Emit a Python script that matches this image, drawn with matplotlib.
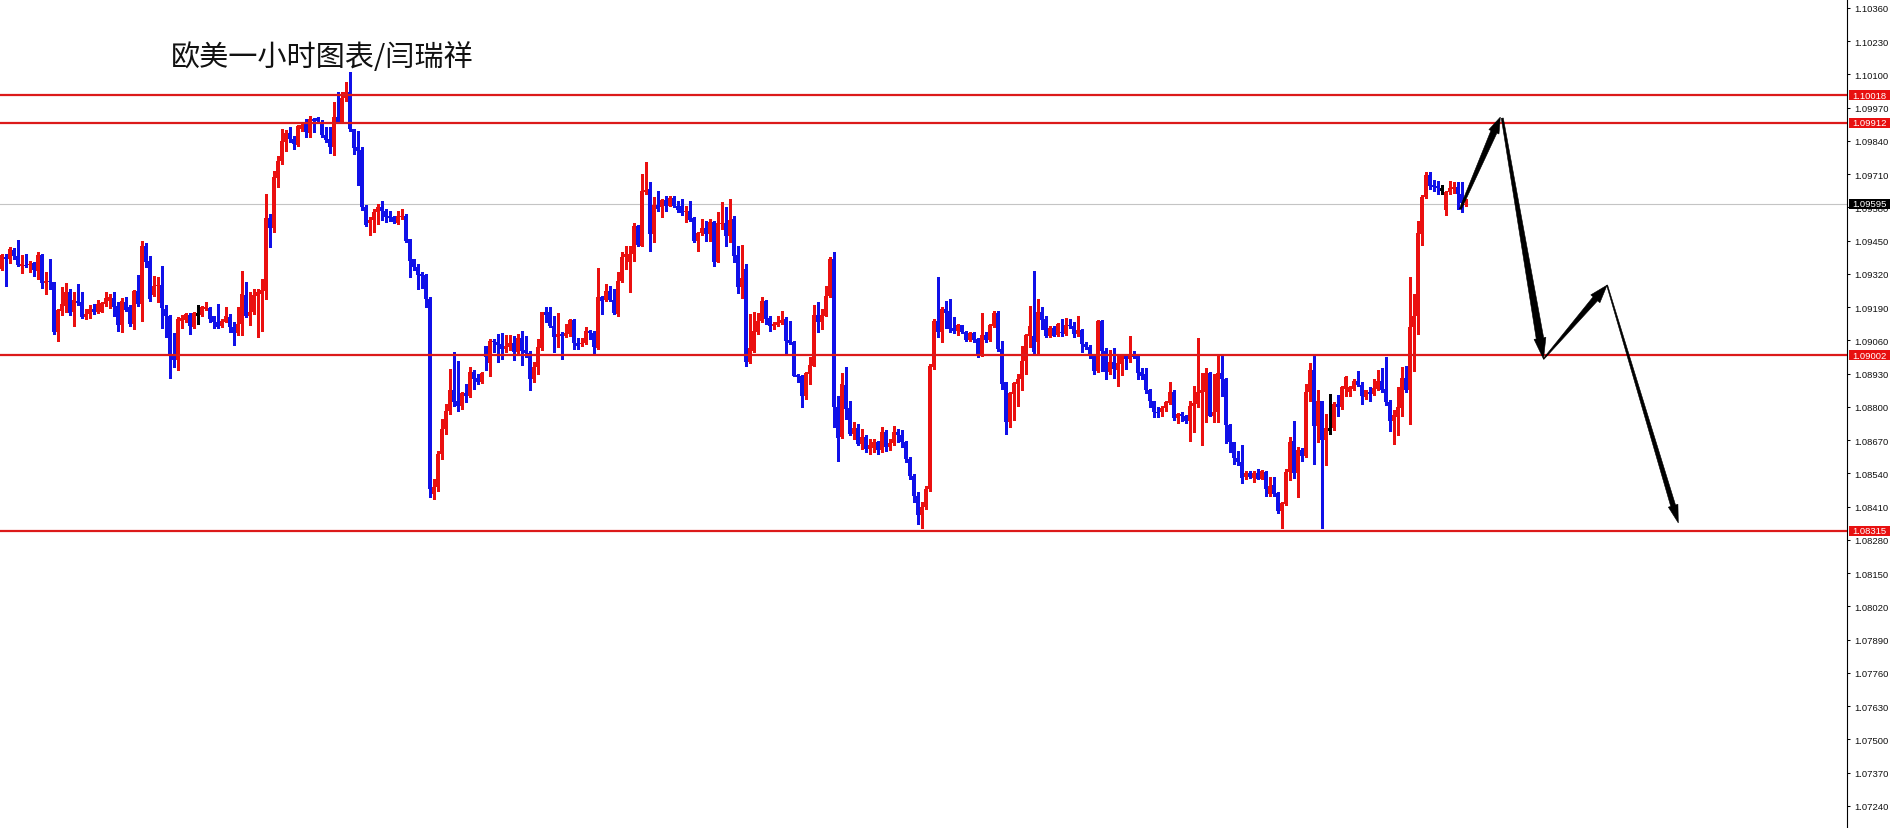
import numpy as np
import matplotlib
matplotlib.use("Agg")
import matplotlib.pyplot as plt
from matplotlib.patches import Polygon, Rectangle
from matplotlib.transforms import IdentityTransform

# ---------------- data (EURUSD, 1 hour) ----------------
opens = [
    1.09339, 1.09385, 1.09378, 1.09415, 1.09389, 1.09352, 1.09356, 1.09355, 1.09363, 1.09333,
    1.09394, 1.09283, 1.09293, 1.09287, 1.09094, 1.09176, 1.09196, 1.09250, 1.09172, 1.09215,
    1.09209, 1.09150, 1.09163, 1.09183, 1.09172, 1.09172, 1.09202, 1.09215, 1.09224, 1.09196,
    1.09120, 1.09211, 1.09189, 1.09124, 1.09254, 1.09202, 1.09428, 1.09372, 1.09237, 1.09271,
    1.09277, 1.09183, 1.09154, 1.09003, 1.08985, 1.09137, 1.09141, 1.09159, 1.09111, 1.09162,
    1.09159, 1.09183, 1.09185, 1.09154, 1.09131, 1.09115, 1.09133, 1.09150, 1.09111, 1.09089,
    1.09124, 1.09237, 1.09154, 1.09170, 1.09232, 1.09241, 1.09254, 1.09537, 1.09498, 1.09694,
    1.09763, 1.09834, 1.09871, 1.09847, 1.09824, 1.09886, 1.09906, 1.09871, 1.09925, 1.09928,
    1.09912, 1.09863, 1.09847, 1.09815, 1.09932, 1.09912, 1.10006, 1.10032, 1.09886, 1.09815,
    1.09806, 1.09580, 1.09519, 1.09532, 1.09561, 1.09580, 1.09567, 1.09545, 1.09541, 1.09519,
    1.09544, 1.09545, 1.09456, 1.09378, 1.09346, 1.09320, 1.09316, 1.09222, 1.08460, 1.08487,
    1.08616, 1.08714, 1.08784, 1.08864, 1.08824, 1.08805, 1.08854, 1.08844, 1.08938, 1.08912,
    1.08899, 1.09037, 1.08972, 1.09059, 1.09055, 1.09046, 1.09026, 1.09033, 1.09050, 1.09013,
    1.09068, 1.09024, 1.09011, 1.08909, 1.08955, 1.09029, 1.09170, 1.09170, 1.09115, 1.09072,
    1.09085, 1.09076, 1.09085, 1.09141, 1.09050, 1.09046, 1.09050, 1.09098, 1.09089, 1.09029,
    1.09228, 1.09219, 1.09254, 1.09219, 1.09163, 1.09293, 1.09385, 1.09365, 1.09398, 1.09506,
    1.09430, 1.09639, 1.09652, 1.09476, 1.09589, 1.09580, 1.09610, 1.09587, 1.09615, 1.09587,
    1.09584, 1.09561, 1.09567, 1.09537, 1.09450, 1.09480, 1.09498, 1.09476, 1.09522, 1.09368,
    1.09515, 1.09519, 1.09467, 1.09535, 1.09394, 1.09267, 1.09339, 1.08974, 1.09020, 1.09094,
    1.09137, 1.09215, 1.09146, 1.09118, 1.09120, 1.09128, 1.09144, 1.09063, 1.09055, 1.08925,
    1.08922, 1.08844, 1.08929, 1.08961, 1.09159, 1.09133, 1.09157, 1.09232, 1.09378, 1.08798,
    1.08681, 1.08886, 1.08795, 1.08694, 1.08716, 1.08655, 1.08681, 1.08636, 1.08638, 1.08662,
    1.08633, 1.08703, 1.08642, 1.08659, 1.08703, 1.08690, 1.08662, 1.08596, 1.08531, 1.08453,
    1.08378, 1.08408, 1.08479, 1.08955, 1.09137, 1.09091, 1.09183, 1.09176, 1.09107, 1.09098,
    1.09120, 1.09094, 1.09063, 1.09089, 1.09065, 1.09003, 1.09081, 1.09063, 1.09118, 1.09167,
    1.09026, 1.08896, 1.08742, 1.08850, 1.08890, 1.08909, 1.08981, 1.09078, 1.09076, 1.09055,
    1.09172, 1.09144, 1.09076, 1.09107, 1.09081, 1.09094, 1.09085, 1.09120, 1.09118, 1.09085,
    1.09102, 1.09046, 1.09033, 1.09000, 1.08942, 1.09137, 1.09020, 1.08935, 1.08974, 1.08946,
    1.08968, 1.09000, 1.08987, 1.09007, 1.08998, 1.08935, 1.08929, 1.08867, 1.08821, 1.08781,
    1.08781, 1.08795, 1.08815, 1.08860, 1.08755, 1.08772, 1.08766, 1.08746, 1.08802, 1.08811,
    1.08854, 1.08860, 1.08933, 1.08766, 1.08781, 1.08933, 1.08909, 1.08729, 1.08662, 1.08599,
    1.08586, 1.08525, 1.08542, 1.08521, 1.08542, 1.08518, 1.08544, 1.08460, 1.08495, 1.08464,
    1.08391, 1.08421, 1.08544, 1.08668, 1.08542, 1.08633, 1.08607, 1.08857, 1.08946, 1.08727,
    1.08821, 1.08672, 1.08714, 1.08716, 1.08811, 1.08798, 1.08870, 1.08860, 1.08870, 1.08903,
    1.08886, 1.08837, 1.08860, 1.08850, 1.08870, 1.08903, 1.08870, 1.08818, 1.08746, 1.08759,
    1.08795, 1.08912, 1.08864, 1.09111, 1.09154, 1.09476, 1.09619, 1.09707, 1.09667, 1.09662,
    1.09653, 1.09571, 1.09639, 1.09652, 1.09658, 1.09632, 1.09589,
]
highs = [
    1.09398, 1.09398, 1.09424, 1.09420, 1.09452, 1.09394, 1.09398, 1.09372, 1.09368, 1.09407,
    1.09396, 1.09326, 1.09378, 1.09290, 1.09183, 1.09267, 1.09284, 1.09261, 1.09250, 1.09280,
    1.09248, 1.09183, 1.09198, 1.09202, 1.09219, 1.09211, 1.09250, 1.09241, 1.09248, 1.09211,
    1.09224, 1.09228, 1.09198, 1.09256, 1.09316, 1.09450, 1.09441, 1.09389, 1.09313, 1.09306,
    1.09349, 1.09198, 1.09159, 1.09089, 1.09150, 1.09159, 1.09167, 1.09167, 1.09172, 1.09198,
    1.09193, 1.09211, 1.09189, 1.09157, 1.09202, 1.09144, 1.09189, 1.09163, 1.09131, 1.09189,
    1.09333, 1.09290, 1.09248, 1.09261, 1.09261, 1.09300, 1.09632, 1.09554, 1.09724, 1.09782,
    1.09886, 1.09884, 1.09893, 1.09858, 1.09902, 1.09906, 1.09925, 1.09938, 1.09928, 1.09932,
    1.09923, 1.09893, 1.09893, 1.09993, 1.10030, 1.10030, 1.10069, 1.10110, 1.09888, 1.09880,
    1.09815, 1.09589, 1.09541, 1.09574, 1.09593, 1.09606, 1.09574, 1.09567, 1.09548, 1.09567,
    1.09574, 1.09554, 1.09458, 1.09380, 1.09359, 1.09326, 1.09320, 1.09228, 1.08518, 1.08628,
    1.08753, 1.08811, 1.08948, 1.09013, 1.08981, 1.08857, 1.08890, 1.08955, 1.08946, 1.08929,
    1.08938, 1.09039, 1.09065, 1.09065, 1.09085, 1.09089, 1.09081, 1.09081, 1.09078, 1.09085,
    1.09098, 1.09076, 1.09020, 1.08974, 1.09065, 1.09172, 1.09189, 1.09189, 1.09154, 1.09167,
    1.09091, 1.09124, 1.09144, 1.09144, 1.09068, 1.09068, 1.09111, 1.09102, 1.09098, 1.09342,
    1.09232, 1.09280, 1.09274, 1.09261, 1.09326, 1.09404, 1.09430, 1.09428, 1.09519, 1.09511,
    1.09710, 1.09756, 1.09678, 1.09619, 1.09645, 1.09613, 1.09626, 1.09626, 1.09626, 1.09606,
    1.09613, 1.09587, 1.09606, 1.09541, 1.09482, 1.09535, 1.09528, 1.09535, 1.09528, 1.09561,
    1.09600, 1.09580, 1.09613, 1.09548, 1.09430, 1.09433, 1.09359, 1.09163, 1.09172, 1.09167,
    1.09228, 1.09219, 1.09154, 1.09131, 1.09157, 1.09176, 1.09150, 1.09137, 1.09057, 1.08929,
    1.08925, 1.08938, 1.08994, 1.09198, 1.09209, 1.09183, 1.09274, 1.09385, 1.09404, 1.08844,
    1.08933, 1.08955, 1.08824, 1.08740, 1.08733, 1.08714, 1.08688, 1.08675, 1.08675, 1.08668,
    1.08720, 1.08711, 1.08675, 1.08727, 1.08714, 1.08711, 1.08668, 1.08603, 1.08538, 1.08466,
    1.08427, 1.08492, 1.08968, 1.09144, 1.09306, 1.09189, 1.09215, 1.09222, 1.09150, 1.09124,
    1.09122, 1.09098, 1.09091, 1.09091, 1.09068, 1.09167, 1.09091, 1.09124, 1.09176, 1.09176,
    1.09059, 1.08899, 1.08860, 1.08899, 1.08929, 1.09037, 1.09085, 1.09193, 1.09333, 1.09222,
    1.09189, 1.09157, 1.09115, 1.09118, 1.09128, 1.09144, 1.09146, 1.09144, 1.09133, 1.09157,
    1.09105, 1.09052, 1.09042, 1.09007, 1.09139, 1.09141, 1.09029, 1.09024, 1.09029, 1.09007,
    1.09007, 1.09003, 1.09076, 1.09020, 1.09003, 1.08951, 1.08951, 1.08870, 1.08824, 1.08798,
    1.08805, 1.08824, 1.08899, 1.08864, 1.08776, 1.08781, 1.08768, 1.08824, 1.08881, 1.09068,
    1.08933, 1.08951, 1.08935, 1.08929, 1.09007, 1.09003, 1.08912, 1.08733, 1.08664, 1.08629,
    1.08649, 1.08551, 1.08551, 1.08551, 1.08557, 1.08553, 1.08551, 1.08525, 1.08525, 1.08466,
    1.08427, 1.08557, 1.08681, 1.08746, 1.08642, 1.08638, 1.08890, 1.08972, 1.09000, 1.08867,
    1.08824, 1.08772, 1.08850, 1.08818, 1.08847, 1.08883, 1.08920, 1.08883, 1.08907, 1.08942,
    1.08899, 1.08867, 1.08877, 1.08907, 1.08946, 1.08951, 1.08994, 1.08828, 1.08789, 1.08877,
    1.08955, 1.08961, 1.09306, 1.09241, 1.09528, 1.09628, 1.09717, 1.09720, 1.09688, 1.09684,
    1.09667, 1.09645, 1.09684, 1.09680, 1.09680, 1.09678, 1.09613,
]
lows = [
    1.09336, 1.09271, 1.09363, 1.09378, 1.09352, 1.09322, 1.09346, 1.09326, 1.09310, 1.09300,
    1.09264, 1.09240, 1.09261, 1.09084, 1.09059, 1.09159, 1.09170, 1.09159, 1.09115, 1.09198,
    1.09146, 1.09144, 1.09146, 1.09163, 1.09167, 1.09170, 1.09196, 1.09185, 1.09157, 1.09098,
    1.09094, 1.09174, 1.09118, 1.09105, 1.09193, 1.09137, 1.09346, 1.09215, 1.09232, 1.09209,
    1.09107, 1.09072, 1.08912, 1.08955, 1.08946, 1.09107, 1.09131, 1.09085, 1.09107, 1.09124,
    1.09157, 1.09180, 1.09133, 1.09107, 1.09107, 1.09111, 1.09131, 1.09091, 1.09042, 1.09081,
    1.09081, 1.09150, 1.09120, 1.09163, 1.09072, 1.09098, 1.09222, 1.09424, 1.09485, 1.09658,
    1.09750, 1.09802, 1.09834, 1.09808, 1.09819, 1.09880, 1.09854, 1.09854, 1.09873, 1.09912,
    1.09854, 1.09837, 1.09793, 1.09785, 1.09910, 1.09910, 1.09997, 1.09880, 1.09789, 1.09667,
    1.09571, 1.09508, 1.09472, 1.09485, 1.09515, 1.09532, 1.09522, 1.09528, 1.09519, 1.09515,
    1.09535, 1.09443, 1.09306, 1.09336, 1.09261, 1.09264, 1.09189, 1.08448, 1.08440, 1.08471,
    1.08596, 1.08694, 1.08772, 1.08805, 1.08785, 1.08792, 1.08818, 1.08837, 1.08870, 1.08890,
    1.08893, 1.08946, 1.08922, 1.09013, 1.08977, 1.08987, 1.09013, 1.09024, 1.08985, 1.09003,
    1.08964, 1.08994, 1.08864, 1.08896, 1.08929, 1.09024, 1.09131, 1.09111, 1.09013, 1.09033,
    1.08987, 1.09072, 1.09078, 1.09026, 1.09026, 1.09037, 1.09046, 1.09065, 1.09003, 1.09026,
    1.09163, 1.09215, 1.09215, 1.09163, 1.09154, 1.09290, 1.09339, 1.09248, 1.09372, 1.09430,
    1.09428, 1.09632, 1.09411, 1.09446, 1.09567, 1.09541, 1.09567, 1.09584, 1.09580, 1.09561,
    1.09550, 1.09524, 1.09528, 1.09446, 1.09411, 1.09472, 1.09450, 1.09450, 1.09349, 1.09365,
    1.09495, 1.09430, 1.09443, 1.09365, 1.09245, 1.09224, 1.08959, 1.08972, 1.09016, 1.09085,
    1.09133, 1.09124, 1.09098, 1.09105, 1.09118, 1.09124, 1.09007, 1.09046, 1.08920, 1.08896,
    1.08798, 1.08831, 1.08890, 1.08959, 1.09094, 1.09105, 1.09154, 1.09228, 1.08720, 1.08590,
    1.08677, 1.08753, 1.08688, 1.08675, 1.08649, 1.08636, 1.08623, 1.08616, 1.08623, 1.08616,
    1.08625, 1.08629, 1.08633, 1.08649, 1.08662, 1.08642, 1.08583, 1.08516, 1.08427, 1.08342,
    1.08325, 1.08401, 1.08469, 1.08948, 1.09072, 1.09055, 1.09107, 1.09094, 1.09089, 1.09081,
    1.09089, 1.09059, 1.09059, 1.09055, 1.08994, 1.09000, 1.09055, 1.09059, 1.09111, 1.09020,
    1.08870, 1.08694, 1.08720, 1.08750, 1.08805, 1.08864, 1.08929, 1.09033, 1.09011, 1.09007,
    1.09105, 1.09072, 1.09072, 1.09076, 1.09078, 1.09078, 1.09081, 1.09107, 1.09072, 1.09078,
    1.09013, 1.09026, 1.08990, 1.08929, 1.08938, 1.08942, 1.08909, 1.08929, 1.08912, 1.08883,
    1.08925, 1.08948, 1.08974, 1.08990, 1.08909, 1.08909, 1.08854, 1.08798, 1.08759, 1.08759,
    1.08763, 1.08785, 1.08811, 1.08750, 1.08737, 1.08746, 1.08737, 1.08668, 1.08701, 1.08798,
    1.08651, 1.08742, 1.08763, 1.08742, 1.08742, 1.08844, 1.08659, 1.08625, 1.08577, 1.08573,
    1.08503, 1.08516, 1.08521, 1.08508, 1.08516, 1.08516, 1.08453, 1.08453, 1.08453, 1.08385,
    1.08325, 1.08417, 1.08512, 1.08521, 1.08447, 1.08590, 1.08603, 1.08821, 1.08577, 1.08662,
    1.08325, 1.08573, 1.08694, 1.08711, 1.08763, 1.08792, 1.08841, 1.08841, 1.08864, 1.08881,
    1.08811, 1.08831, 1.08821, 1.08847, 1.08864, 1.08860, 1.08808, 1.08707, 1.08655, 1.08688,
    1.08766, 1.08857, 1.08733, 1.08942, 1.09085, 1.09433, 1.09615, 1.09652, 1.09645, 1.09632,
    1.09632, 1.09550, 1.09632, 1.09636, 1.09574, 1.09561, 1.09584,
]
closes = [
    1.09394, 1.09378, 1.09417, 1.09391, 1.09355, 1.09359, 1.09352, 1.09359, 1.09336, 1.09394,
    1.09284, 1.09291, 1.09287, 1.09091, 1.09180, 1.09202, 1.09248, 1.09167, 1.09219, 1.09206,
    1.09150, 1.09163, 1.09183, 1.09172, 1.09202, 1.09206, 1.09224, 1.09228, 1.09189, 1.09120,
    1.09215, 1.09180, 1.09124, 1.09254, 1.09202, 1.09428, 1.09368, 1.09222, 1.09271, 1.09277,
    1.09185, 1.09154, 1.09003, 1.08985, 1.09144, 1.09146, 1.09163, 1.09115, 1.09167, 1.09162,
    1.09189, 1.09189, 1.09144, 1.09131, 1.09111, 1.09137, 1.09157, 1.09111, 1.09089, 1.09124,
    1.09241, 1.09154, 1.09172, 1.09237, 1.09248, 1.09258, 1.09537, 1.09498, 1.09697, 1.09763,
    1.09841, 1.09871, 1.09847, 1.09828, 1.09897, 1.09902, 1.09873, 1.09925, 1.09919, 1.09919,
    1.09863, 1.09845, 1.09815, 1.09932, 1.09915, 1.10006, 1.10030, 1.09886, 1.09811, 1.09802,
    1.09580, 1.09511, 1.09532, 1.09563, 1.09580, 1.09567, 1.09541, 1.09540, 1.09524, 1.09545,
    1.09548, 1.09450, 1.09372, 1.09346, 1.09316, 1.09313, 1.09222, 1.08479, 1.08487, 1.08616,
    1.08714, 1.08784, 1.08864, 1.08818, 1.08805, 1.08854, 1.08844, 1.08938, 1.08909, 1.08899,
    1.08933, 1.08994, 1.09059, 1.09052, 1.09042, 1.09026, 1.09039, 1.09050, 1.09013, 1.09068,
    1.09020, 1.09011, 1.08909, 1.08955, 1.09033, 1.09170, 1.09159, 1.09115, 1.09072, 1.09085,
    1.09078, 1.09089, 1.09141, 1.09050, 1.09039, 1.09050, 1.09098, 1.09089, 1.09033, 1.09228,
    1.09215, 1.09254, 1.09219, 1.09167, 1.09293, 1.09385, 1.09398, 1.09398, 1.09508, 1.09433,
    1.09645, 1.09649, 1.09476, 1.09589, 1.09574, 1.09610, 1.09587, 1.09615, 1.09587, 1.09571,
    1.09558, 1.09567, 1.09532, 1.09450, 1.09480, 1.09498, 1.09476, 1.09522, 1.09368, 1.09519,
    1.09519, 1.09467, 1.09532, 1.09391, 1.09267, 1.09303, 1.08974, 1.09029, 1.09098, 1.09137,
    1.09215, 1.09144, 1.09118, 1.09124, 1.09131, 1.09141, 1.09059, 1.09050, 1.08922, 1.08916,
    1.08844, 1.08933, 1.08964, 1.09159, 1.09133, 1.09159, 1.09235, 1.09378, 1.08798, 1.08677,
    1.08890, 1.08792, 1.08694, 1.08716, 1.08655, 1.08681, 1.08636, 1.08649, 1.08662, 1.08633,
    1.08703, 1.08642, 1.08659, 1.08703, 1.08690, 1.08662, 1.08596, 1.08531, 1.08453, 1.08378,
    1.08408, 1.08479, 1.08961, 1.09137, 1.09091, 1.09183, 1.09167, 1.09105, 1.09098, 1.09120,
    1.09094, 1.09063, 1.09089, 1.09063, 1.09007, 1.09081, 1.09063, 1.09120, 1.09167, 1.09026,
    1.08890, 1.08742, 1.08854, 1.08893, 1.08909, 1.08981, 1.09081, 1.09115, 1.09013, 1.09170,
    1.09141, 1.09076, 1.09107, 1.09078, 1.09124, 1.09089, 1.09120, 1.09115, 1.09085, 1.09102,
    1.09046, 1.09033, 1.08998, 1.08942, 1.09137, 1.09020, 1.08935, 1.08974, 1.08948, 1.08972,
    1.09000, 1.08987, 1.09007, 1.08994, 1.08933, 1.08922, 1.08864, 1.08821, 1.08779, 1.08776,
    1.08795, 1.08818, 1.08857, 1.08755, 1.08772, 1.08763, 1.08746, 1.08805, 1.08815, 1.08860,
    1.08867, 1.08933, 1.08766, 1.08781, 1.08933, 1.08907, 1.08729, 1.08662, 1.08599, 1.08586,
    1.08521, 1.08542, 1.08525, 1.08542, 1.08518, 1.08551, 1.08477, 1.08492, 1.08460, 1.08391,
    1.08424, 1.08547, 1.08664, 1.08542, 1.08633, 1.08607, 1.08860, 1.08946, 1.08727, 1.08821,
    1.08672, 1.08716, 1.08714, 1.08811, 1.08798, 1.08877, 1.08916, 1.08877, 1.08903, 1.08886,
    1.08841, 1.08864, 1.08850, 1.08873, 1.08903, 1.08864, 1.08818, 1.08746, 1.08768, 1.08798,
    1.08912, 1.08864, 1.09111, 1.09154, 1.09480, 1.09619, 1.09707, 1.09665, 1.09658, 1.09654,
    1.09653, 1.09641, 1.09654, 1.09658, 1.09632, 1.09597, 1.09595,
]

level_prices = [1.10018, 1.09912, 1.09002, 1.08315]
level_labels = ["1.10018", "1.09912", "1.09002", "1.08315"]
current_price = 1.09595
current_label = "1.09595"
price_ticks = [1.07240, 1.07370, 1.07500, 1.07630, 1.07760, 1.07890, 1.08020,
               1.08150, 1.08280, 1.08410, 1.08540, 1.08670, 1.08800, 1.08930,
               1.09060, 1.09190, 1.09320, 1.09450, 1.09580, 1.09710, 1.09840,
               1.09970, 1.10100, 1.10230, 1.10360]
# projected path drawn as arrows: (bar index, price)
forecast_bars = [364.7, 374.7, 385.5, 401.4, 419.2]
forecast_prices = [1.09573, 1.09933, 1.08987, 1.09276, 1.08346]
title_text = "欧美一小时图表/闫瑞祥"

# ---------------- figure ----------------
plt.rcParams["font.family"] = ["Liberation Sans", "DejaVu Sans"]
W, H = 1893, 829
fig = plt.figure(figsize=(W / 100, H / 100), dpi=100)
fig.patch.set_facecolor("white")
ax = fig.add_axes([0, 0, 1847 / W, 1])
ax.set_facecolor("white")
ax.set_xlim(-0.375, 461.375)
ax.set_ylim(1.07153, 1.10395)

o = np.array(opens)
c = np.array(closes)
hi = np.maximum(np.array(highs), np.maximum(o, c))
lo = np.minimum(np.array(lows), np.minimum(o, c))
x = np.arange(len(o))

RED = "#ea1010"
BLUE = "#1010e8"
diff = c - o
doji = np.abs(diff) < 0.00002
bull = (diff > 0) & ~doji
bear = (diff < 0) & ~doji
cols = np.where(bull, RED, np.where(bear, BLUE, "black"))

ax.axhline(current_price, color="#c4c4c4", lw=0.8, zorder=1)

ax.vlines(x, lo, hi, colors=cols, lw=0.75, zorder=2, antialiased=False)
body_bottom = np.minimum(o, c)
body_h = np.maximum(np.abs(diff), 0.00004)
for mask, col in ((bull, RED), (bear, BLUE)):
    ax.bar(x[mask], body_h[mask], bottom=body_bottom[mask], width=0.75,
           color=col, edgecolor="none", zorder=3, antialiased=False)
ax.hlines(o[doji], x[doji] - 0.375, x[doji] + 0.375, colors="black", lw=0.75,
          zorder=3, antialiased=False)

for p in level_prices:
    ax.axhline(p, color="#dc1a1a", lw=1.6, zorder=4)

# axis styling
for s in ("left", "top", "bottom"):
    ax.spines[s].set_visible(False)
ax.spines["right"].set_color("black")
ax.spines["right"].set_linewidth(0.8)
ax.set_xticks([])
ax.yaxis.tick_right()
ax.set_yticks(price_ticks)
ax.set_yticklabels([f"{t:.5f}" for t in price_ticks])
ax.tick_params(axis="y", direction="out", length=2.5, width=0.75, pad=2.5,
               labelsize=6.8, labelcolor="#111111", color="black")

ident = IdentityTransform()


def price_box(price, text, fc):
    yd = ax.transData.transform((0, price))[1]
    fig.add_artist(Rectangle((1849, yd - 5), 41, 10, transform=ident,
                             facecolor=fc, edgecolor="none", zorder=5))
    fig.text(1852 / W, yd / H, text, color="white", fontsize=6.8,
             ha="left", va="center", zorder=6)


for p, t in zip(level_prices, level_labels):
    price_box(p, t, "#e81010")
price_box(current_price, current_label, "black")


def tapered_arrow(p0, p1, w0, w1, head_w, head_len):
    a = ax.transData.transform(p0)
    b = ax.transData.transform(p1)
    d = b - a
    L = np.hypot(*d)
    u = d / L
    n = np.array([-u[1], u[0]])
    base = b - u * head_len
    pts = [a + n * w0 / 2, base + n * w1 / 2, base + n * head_w / 2, b,
           base - n * head_w / 2, base - n * w1 / 2, a - n * w0 / 2]
    fig.add_artist(Polygon(pts, closed=True, transform=ident, facecolor="black",
                           edgecolor="black", lw=0.4, zorder=7))


fp = list(zip(forecast_bars, forecast_prices))
tapered_arrow(fp[0], fp[1], 2.0, 6.5, 11, 16)
tapered_arrow((fp[1][0] + 0.5, fp[1][1] - 0.00004), fp[2], 2.0, 7.5, 12, 21)
tapered_arrow(fp[2], fp[3], 1.0, 6.0, 12, 18)
tapered_arrow(fp[3], fp[4], 1.0, 5.0, 10, 18)

fig.text(171 / W, 1 - 58 / H, title_text, fontsize=21, color="#111111",
         family=["Noto Sans CJK SC", "DejaVu Sans"], ha="left", va="center")

fig.savefig("out.png", dpi=100, facecolor="white")
